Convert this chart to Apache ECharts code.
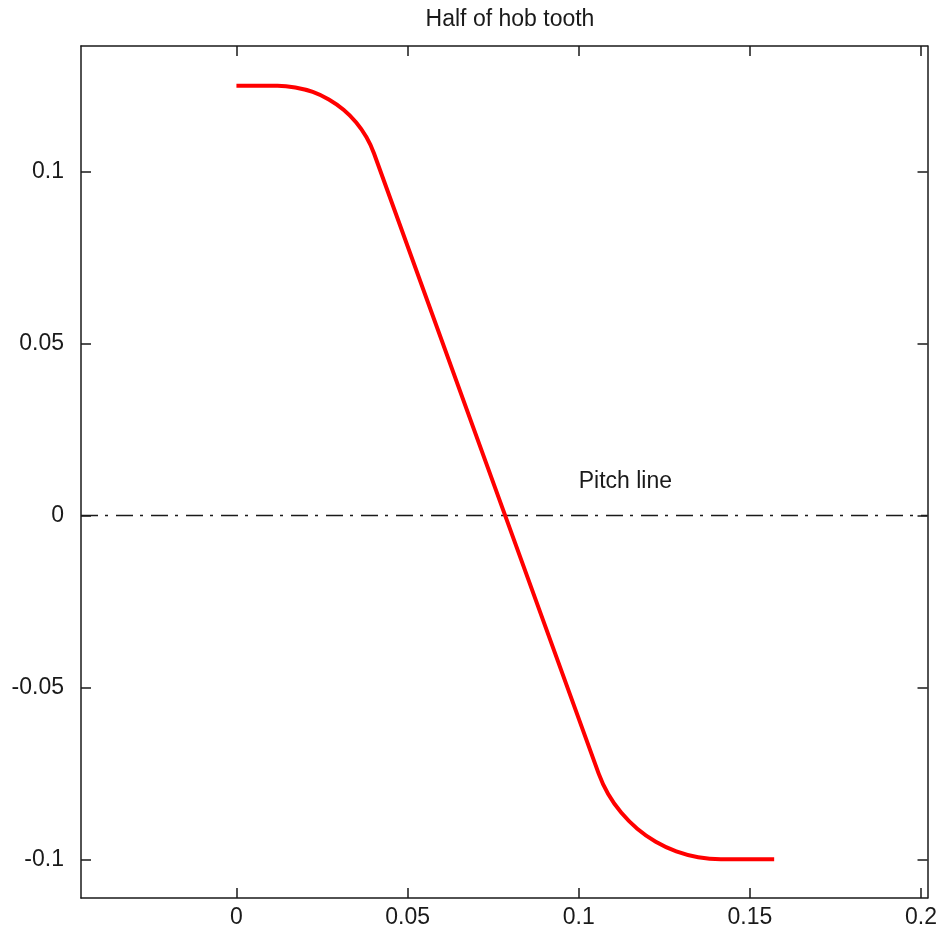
<!DOCTYPE html>
<html>
<head>
<meta charset="utf-8">
<style>
  html, body { margin: 0; padding: 0; background: #ffffff; }
  #chart { width: 940px; height: 934px; }
</style>
<script src="https://cdn.jsdelivr.net/npm/echarts@6/dist/echarts.min.js"></script>
</head>
<body>
<div id="chart"></div>
<script>
// Tooth profile (x, y)
const toothX = [0.0, 0.012, 0.0172, 0.0223, 0.0270, 0.0313, 0.0350, 0.0380, 0.0402, 0.1058, 0.1086, 0.1124, 0.1171, 0.1225, 0.1285, 0.1349, 0.1415, 0.1571];
const toothY = [0.125, 0.125, 0.1245, 0.1232, 0.1210, 0.1180, 0.1143, 0.1100, 0.1053, -0.0750, -0.0810, -0.0864, -0.0911, -0.0949, -0.0977, -0.0994, -0.1, -0.1];

// Pitch line
const pitchX = [-0.04541, 0.2019];
const pitchY = [0, 0];
const pitchLabelPos = [0.1, 0.0099];
const pitchLabel = 'Pitch line';

// Axis ticks
const xTickValues = [0, 0.05, 0.1, 0.15, 0.2];
const xTickLabels = ['0', '0.05', '0.1', '0.15', '0.2'];
const yTickValues = [-0.1, -0.05, 0, 0.05, 0.1];
const yTickLabels = ['-0.1', '-0.05', '0', '0.05', '0.1'];
const xRange = [-0.04541, 0.2019];
const yRange = [-0.11126, 0.13656];

const titleText = 'Half of hob tooth';

const FONT = "'Liberation Sans', Arial, Helvetica, sans-serif";
const INK = '#1a1a1a';

function lbl(values, labels) {
  return function (v) {
    for (let i = 0; i < values.length; i++) {
      if (Math.abs(values[i] - v) < 1e-9) return labels[i];
    }
    return '';
  };
}

const axisLineStyle = { show: true, onZero: false, lineStyle: { color: INK, width: 1.5 } };

function xAxisDef(pos, showLabels) {
  return {
    type: 'value', position: pos, min: xRange[0], max: xRange[1],
    axisLine: axisLineStyle,
    axisTick: { show: true, inside: true, length: 10, customValues: xTickValues, lineStyle: { color: INK, width: 1.5 } },
    axisLabel: { show: showLabels, customValues: xTickValues, formatter: lbl(xTickValues, xTickLabels),
      color: INK, fontFamily: FONT, fontSize: 23, margin: 8 },
    splitLine: { show: false }
  };
}
function yAxisDef(pos, showLabels) {
  return {
    type: 'value', position: pos, min: yRange[0], max: yRange[1],
    axisLine: axisLineStyle,
    axisTick: { show: true, inside: true, length: 10, customValues: yTickValues, lineStyle: { color: INK, width: 1.5 } },
    axisLabel: { show: showLabels, customValues: yTickValues, formatter: lbl(yTickValues, yTickLabels),
      color: INK, fontFamily: FONT, fontSize: 23, margin: 17 },
    splitLine: { show: false }
  };
}

const chart = echarts.init(document.getElementById('chart'), null, { renderer: 'canvas' });
chart.setOption({
  animation: false,
  backgroundColor: '#ffffff',
  title: {
    text: titleText, left: 505, top: 3, textAlign: 'center',
    textStyle: { color: INK, fontFamily: FONT, fontSize: 23, fontWeight: 'normal' }
  },
  grid: { left: 81, right: 11, top: 46, bottom: 36, containLabel: false },
  xAxis: [xAxisDef('bottom', true), xAxisDef('top', false)],
  yAxis: [yAxisDef('left', true), yAxisDef('right', false)],
  series: [
    {
      type: 'line', xAxisIndex: 0, yAxisIndex: 0,
      data: pitchX.map((x, i) => [x, pitchY[i]]),
      symbol: 'none', z: 1, silent: true,
      lineStyle: { color: INK, width: 1.5, type: [17, 7, 3, 8] }
    },
    {
      type: 'line', xAxisIndex: 0, yAxisIndex: 0,
      data: toothX.map((x, i) => [x, toothY[i]]),
      symbol: 'none', smooth: 0.3, z: 3, silent: true,
      lineStyle: { color: '#ff0000', width: 4 }
    },
    {
      type: 'scatter', xAxisIndex: 0, yAxisIndex: 0,
      data: [pitchLabelPos], symbolSize: 0, z: 4, silent: true,
      itemStyle: { opacity: 1, color: INK },
      label: { show: true, position: [0, 0], align: 'left', verticalAlign: 'middle', opacity: 1,
        formatter: pitchLabel, color: INK, fontFamily: FONT, fontSize: 23 }
    }
  ]
});
</script>
</body>
</html>
